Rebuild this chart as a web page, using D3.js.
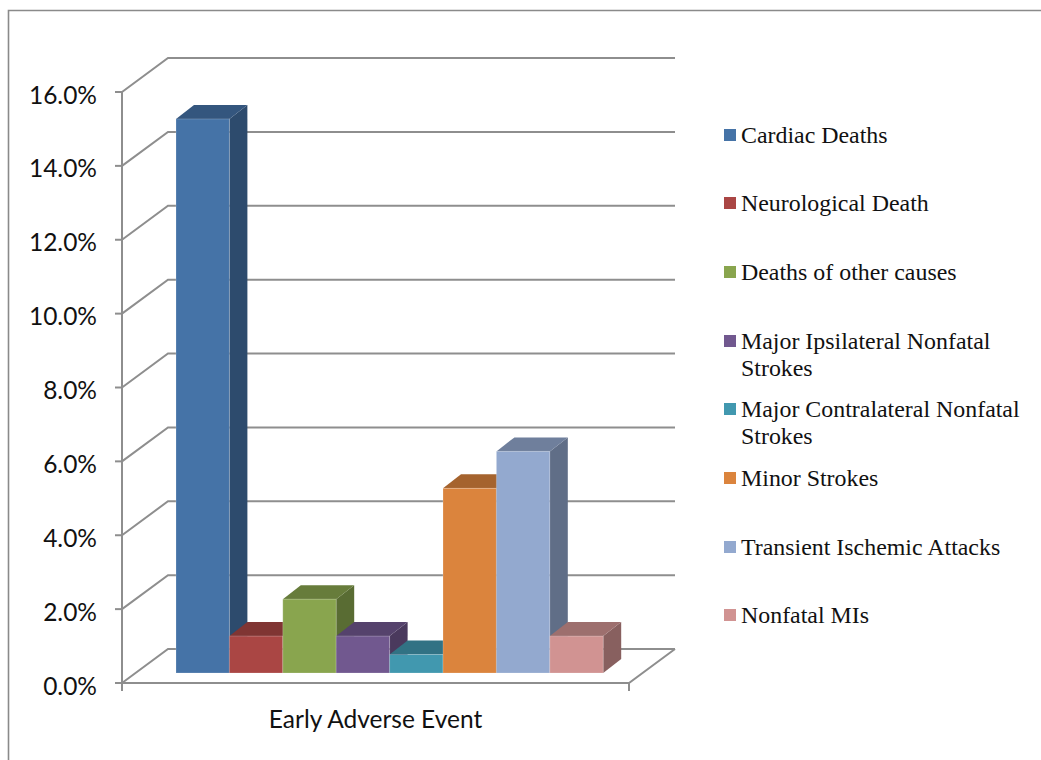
<!DOCTYPE html>
<html>
<head>
<meta charset="utf-8">
<style>
html, body { margin: 0; padding: 0; background: #fff; }
svg { display: block; }
.tick-label { font-family: Lato, "Open Sans", sans-serif; font-size: 24.5px; fill: #111; }
.legend-label { font-family: "Liberation Serif", serif; font-size: 23.9px; fill: #111; }
</style>
<script src="https://cdn.jsdelivr.net/npm/d3@7/dist/d3.min.js"></script>
</head>
<body>
<svg id="chart" width="1041" height="760"></svg>
<script>
// Early adverse event rates, in percent
const categories = ["Early Adverse Event"];
const seriesNames = [
  "Cardiac Deaths", "Neurological Death", "Deaths of other causes",
  "Major Ipsilateral Nonfatal Strokes", "Major Contralateral Nonfatal Strokes",
  "Minor Strokes", "Transient Ischemic Attacks", "Nonfatal MIs"
];
const seriesValues = [15, 1, 2, 1, 0.5, 5, 6, 1];
const seriesColors = ["#4573a7", "#aa4644", "#89a54e", "#71588f", "#4198af", "#db843d", "#93a9cf", "#d19392"];
const yTicks = [0, 2, 4, 6, 8, 10, 12, 14, 16];

// Wrapped legend text, one entry per series
const legendLines = [
  ["Cardiac Deaths"], ["Neurological Death"], ["Deaths of other causes"],
  ["Major Ipsilateral Nonfatal", "Strokes"], ["Major Contralateral Nonfatal", "Strokes"],
  ["Minor Strokes"], ["Transient Ischemic Attacks"], ["Nonfatal MIs"]
];
const legendRowY = [135, 203, 272, 341, 409, 478, 547, 615];

const svg = d3.select("#chart");
const gridColor = "#8e8e8e";

// Outer frame: only the top and left edges are visible
svg.append("path")
  .attr("d", "M1041,10.5H8.5V760")
  .attr("fill", "none").attr("stroke", "#8a8a8a").attr("stroke-width", 1.6);

// Projection of the 3D box: front plane plus an oblique depth offset
const y = d3.scaleLinear().domain([0, 16]).range([683, 92]);
const floorX = d3.scaleBand().domain(categories).range([122, 629]);
const wallDepth = { dx: 46, dy: -34 };
const barDepth = { dx: 18, dy: -14 };
const barBase = { dx: 54, dy: -10 };
const barStep = 53.4;

const grid = svg.append("g").attr("fill", "none").attr("stroke", gridColor).attr("stroke-width", 2);
const x0 = floorX.range()[0], x1 = floorX.range()[1];

// Back wall gridlines with their diagonals down the side wall
grid.selectAll("path.wall").data(yTicks).join("path")
  .attr("class", "wall")
  .attr("d", t => d3.line()([
    [x0, y(t)],
    [x0 + wallDepth.dx, y(t) + wallDepth.dy],
    [x1 + wallDepth.dx, y(t) + wallDepth.dy]
  ]));

// Floor front edge, right edge and the value axis
grid.append("path").attr("d", d3.line()([
  [x0 - 6, y(0)], [x1, y(0)], [x1 + wallDepth.dx, y(0) + wallDepth.dy]
]));
grid.append("path").attr("d", d3.line()([[x0, y(16)], [x0, y(0) + 8]]));
grid.append("path").attr("d", d3.line()([[x1, y(0)], [x1, y(0) + 8]]));
grid.selectAll("path.tick").data(yTicks).join("path")
  .attr("class", "tick")
  .attr("d", t => d3.line()([[x0 - 7, y(t)], [x0, y(t)]]));

// Value axis labels
svg.append("g").selectAll("text").data(yTicks).join("text")
  .attr("class", "tick-label")
  .attr("x", 97).attr("y", t => y(t) + 2)
  .attr("text-anchor", "end").attr("dominant-baseline", "central")
  .text(t => d3.format(".1f")(t) + "%");

// Category label
svg.append("text").attr("class", "tick-label")
  .attr("x", floorX(categories[0]) + floorX.bandwidth() / 2).attr("y", 718.5)
  .attr("text-anchor", "middle").attr("dominant-baseline", "central")
  .text(categories[0]);

// Bars: side and top faces are darker shades of the front colour
const bars = seriesValues.map((v, i) => ({ v, i, name: seriesNames[i], color: seriesColors[i] }));
const baseY = y(0) + barBase.dy;
const barLeft = i => x0 + barBase.dx + i * barStep;
const barTop = v => baseY - (y(0) - y(v));

const shade = (c, k) => d3.rgb(c).darker(k).formatHex();
const barGroups = svg.append("g").selectAll("g").data(bars).join("g");

barGroups.append("path").attr("fill", d => shade(d.color, 1.2))
  .attr("d", d => {
    const r = barLeft(d.i) + barStep, t = barTop(d.v);
    return d3.line()([[r, t], [r + barDepth.dx, t + barDepth.dy], [r + barDepth.dx, baseY + barDepth.dy], [r, baseY]]) + "Z";
  });
barGroups.append("path").attr("fill", d => shade(d.color, 0.8))
  .attr("d", d => {
    const l = barLeft(d.i), r = l + barStep, t = barTop(d.v);
    return d3.line()([[l, t], [l + barDepth.dx, t + barDepth.dy], [r + barDepth.dx, t + barDepth.dy], [r, t]]) + "Z";
  });
barGroups.append("rect")
  .attr("x", d => barLeft(d.i)).attr("y", d => barTop(d.v))
  .attr("width", barStep).attr("height", d => baseY - barTop(d.v))
  .attr("fill", d => d.color)
  .attr("stroke", "#fff").attr("stroke-opacity", 0.2).attr("stroke-width", 1);

// Legend
const legend = svg.append("g").selectAll("g").data(bars).join("g");
legend.append("rect")
  .attr("x", 724).attr("y", d => legendRowY[d.i] - 6)
  .attr("width", 12).attr("height", 12)
  .attr("fill", d => d.color);
legend.each(function (d) {
  d3.select(this).selectAll("text").data(legendLines[d.i]).join("text")
    .attr("class", "legend-label")
    .attr("x", 741)
    .attr("y", (line, j) => legendRowY[d.i] + 8 + j * 27)
    .text(line => line);
});
</script>
</body>
</html>
